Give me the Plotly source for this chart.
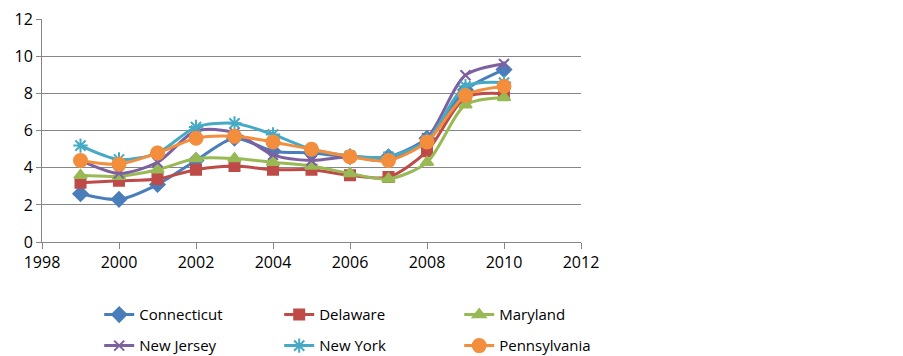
import plotly.graph_objects as go

years = [1999, 2000, 2001, 2002, 2003, 2004, 2005, 2006, 2007, 2008, 2009, 2010]
connecticut = [2.6, 2.3, 3.1, 4.4, 5.6, 4.9, 4.8, 4.6, 4.6, 5.6, 8.2, 9.3]
delaware = [3.2, 3.3, 3.4, 3.9, 4.1, 3.9, 3.9, 3.6, 3.5, 4.9, 7.8, 8.0]
maryland = [3.6, 3.55, 3.9, 4.5, 4.5, 4.3, 4.1, 3.7, 3.4, 4.3, 7.4, 7.8]
new_jersey = [4.4, 3.7, 4.3, 6.0, 5.9, 4.7, 4.4, 4.6, 4.4, 5.6, 9.0, 9.6]
new_york = [5.2, 4.45, 4.8, 6.2, 6.4, 5.8, 5.0, 4.65, 4.6, 5.5, 8.4, 8.6]
pennsylvania = [4.4, 4.2, 4.8, 5.6, 5.7, 5.4, 5.0, 4.6, 4.4, 5.4, 7.9, 8.4]

series = [
    ("Connecticut", connecticut, "#4A7EBB", "diamond", 11, "legend"),
    ("Delaware", delaware, "#BE4B48", "square", 10, "legend"),
    ("Maryland", maryland, "#98B954", "triangle-up", 11, "legend"),
    ("New Jersey", new_jersey, "#7D60A0", "x-thin", 10, "legend2"),
    ("New York", new_york, "#46AAC5", "asterisk", 12, "legend2"),
    ("Pennsylvania", pennsylvania, "#F28E3C", "circle", 13, "legend2"),
]

fig = go.Figure()
for name, vals, color, sym, size, lg in series:
    fig.add_trace(go.Scatter(
        x=years, y=vals, name=name, mode="lines+markers",
        line=dict(color=color, width=3, shape="spline", smoothing=0.8),
        marker=dict(symbol=sym, size=size, color=color,
                    line=dict(color=color, width=2)),
        legend=lg,
    ))

font = dict(family="Open Sans, Noto Sans, sans-serif", size=16, color="#000000")
legend_common = dict(orientation="h", xanchor="left", yanchor="middle",
                     xref="container", yref="container",
                     entrywidth=135, entrywidthmode="pixels",
                     font=dict(family="Open Sans, sans-serif", size=15, color="#000"),
                     bgcolor="rgba(0,0,0,0)", tracegroupgap=0, itemwidth=30)

fig.update_layout(
    width=903, height=356,
    margin=dict(l=34, r=330, t=11, b=122),
    paper_bgcolor="white", plot_bgcolor="white",
    font=font,
    showlegend=True,
    legend=dict(x=0.101, y=0.138, **legend_common),
    legend2=dict(x=0.101, y=0.051, **legend_common),
    xaxis=dict(range=[1998, 2012], dtick=2, tick0=1998, showgrid=False,
               showline=True, linecolor="#868686", linewidth=1,
               ticks="outside", ticklen=6, tickcolor="#868686",
               tickfont=dict(size=16), zeroline=False, automargin=False,
               ticklabeloverflow="allow"),
    yaxis=dict(range=[0, 12.03], tickvals=[0, 2, 4, 6, 8, 10, 12],
               showgrid=True, gridcolor="#868686",
               gridwidth=1, showline=True, linecolor="#868686", linewidth=1,
               ticks="outside", ticklen=5, tickcolor="#868686",
               tickfont=dict(size=16), zeroline=False, automargin=False,
               ticklabeloverflow="allow"),
)

fig.write_html("out.html")
